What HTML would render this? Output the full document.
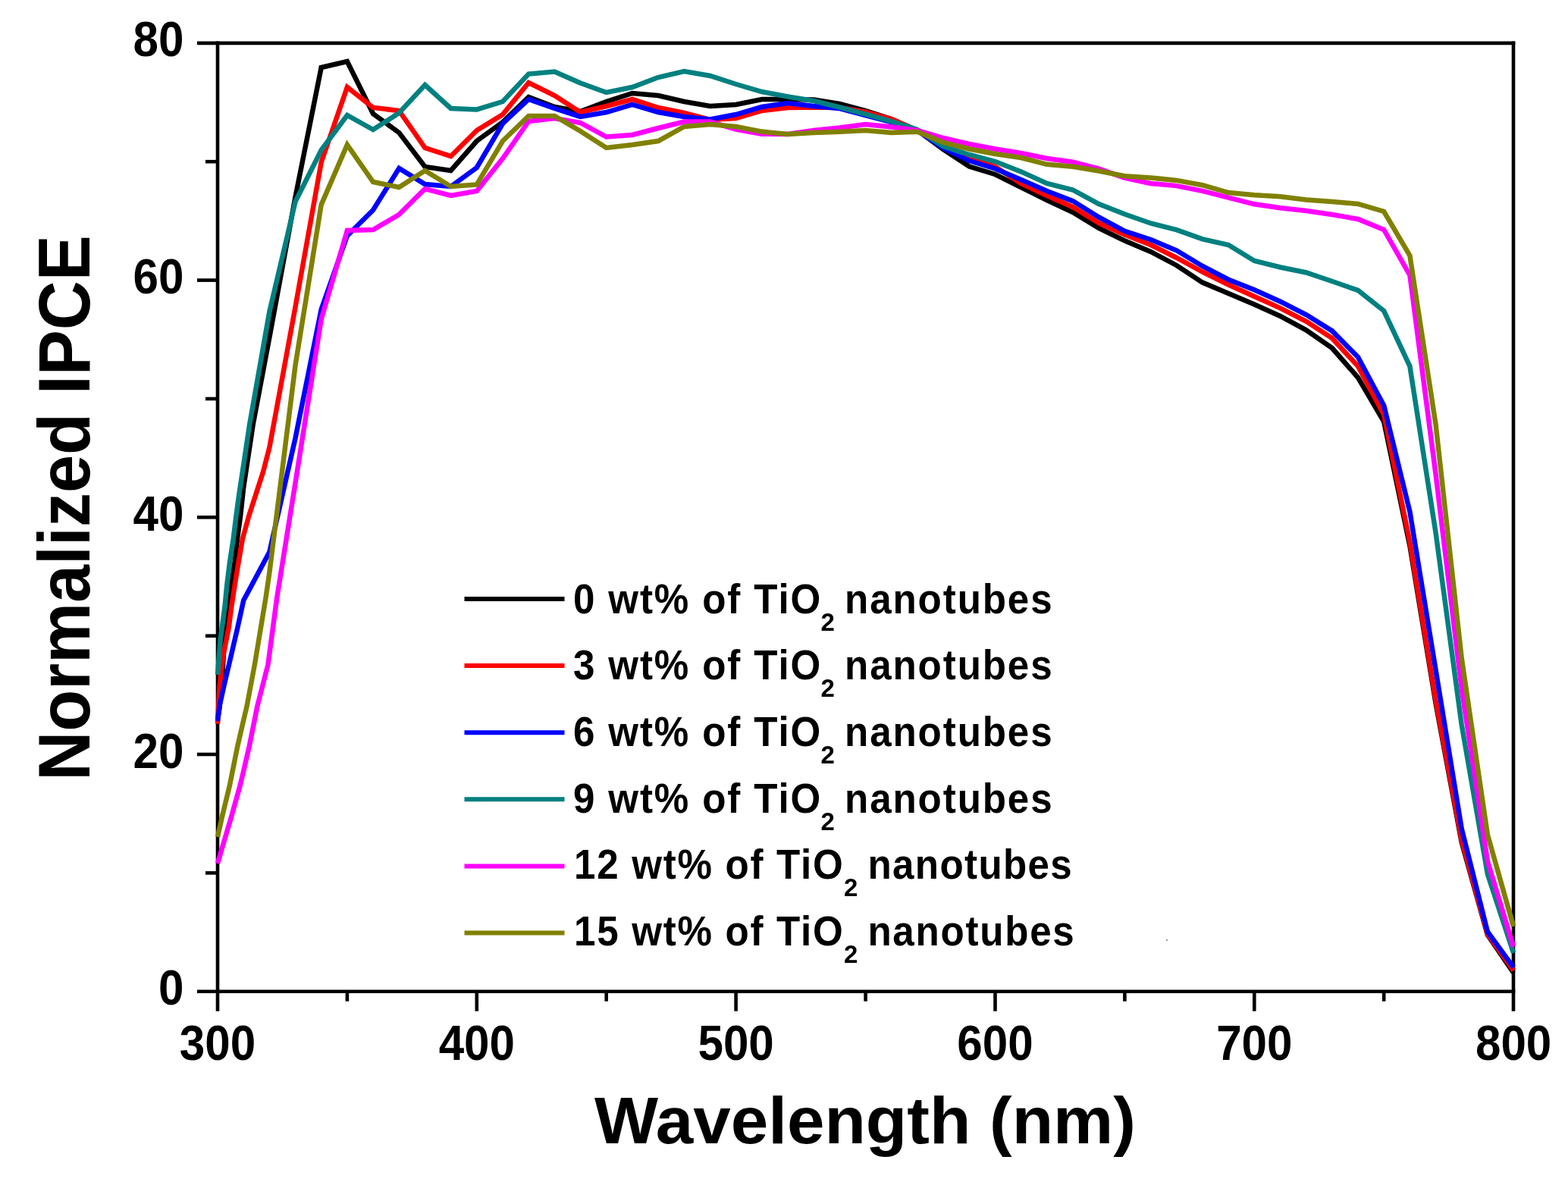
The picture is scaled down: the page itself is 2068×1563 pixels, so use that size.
<!DOCTYPE html>
<html><head><meta charset="utf-8"><style>html,body{margin:0;padding:0;background:#fff;}svg{display:block;}</style></head>
<body><svg width="2068" height="1563" viewBox="0 0 2068 1563"><rect width="2068" height="1563" fill="#fff"/><g stroke="#000" stroke-width="4.6" fill="none" stroke-linecap="butt"><line x1="287" y1="54.6" x2="287" y2="1333.7"/><line x1="1996" y1="54.6" x2="1996" y2="1333.7"/><line x1="260" y1="56.9" x2="1998.3" y2="56.9"/><line x1="260" y1="1307.7" x2="1998.3" y2="1307.7"/><line x1="457.9" y1="1307.7" x2="457.9" y2="1320.7"/><line x1="628.8" y1="1307.7" x2="628.8" y2="1333.7"/><line x1="799.7" y1="1307.7" x2="799.7" y2="1320.7"/><line x1="970.6" y1="1307.7" x2="970.6" y2="1333.7"/><line x1="1141.6" y1="1307.7" x2="1141.6" y2="1320.7"/><line x1="1312.5" y1="1307.7" x2="1312.5" y2="1333.7"/><line x1="1483.4" y1="1307.7" x2="1483.4" y2="1320.7"/><line x1="1654.3" y1="1307.7" x2="1654.3" y2="1333.7"/><line x1="1825.2" y1="1307.7" x2="1825.2" y2="1320.7"/><line x1="271" y1="1151.4" x2="287" y2="1151.4"/><line x1="260" y1="995.0" x2="287" y2="995.0"/><line x1="271" y1="838.7" x2="287" y2="838.7"/><line x1="260" y1="682.3" x2="287" y2="682.3"/><line x1="271" y1="526.0" x2="287" y2="526.0"/><line x1="260" y1="369.6" x2="287" y2="369.6"/><line x1="271" y1="213.2" x2="287" y2="213.2"/></g><polyline points="287.0,948.0 289.0,937.0 292.0,911.0 295.3,856.0 298.0,828.0 302.3,800.0 305.0,772.1 309.6,741.4 313.0,710.7 317.2,680.0 321.2,643.0 333.7,560.0 355.4,445.0 389.5,260.0 423.7,89.0 457.9,81.0 492.1,150.0 526.3,175.0 560.5,220.0 594.6,225.0 628.8,186.0 663.0,161.0 697.2,128.0 731.4,141.0 765.5,147.0 799.7,134.0 833.9,123.0 868.1,126.0 902.3,134.0 936.5,140.0 970.6,138.0 1004.8,131.0 1039.0,131.0 1073.2,131.5 1107.4,137.0 1141.6,146.0 1175.7,157.0 1209.9,172.0 1244.1,197.0 1278.3,219.5 1312.5,230.0 1346.6,247.0 1380.8,264.0 1415.0,280.0 1449.2,301.0 1483.4,317.5 1517.6,332.0 1551.7,350.0 1585.9,372.6 1620.1,387.1 1654.3,401.6 1688.5,417.0 1722.6,435.4 1756.8,459.0 1791.0,498.0 1825.2,556.0 1859.4,720.0 1893.6,928.0 1927.7,1111.0 1961.9,1233.0 1996.1,1283.0" fill="none" stroke="#000000" stroke-width="6.5" stroke-linejoin="miter" stroke-miterlimit="3"/><polyline points="287.0,955.0 289.6,905.0 294.0,866.7 301.7,828.0 305.3,800.0 309.6,772.1 314.6,741.4 319.9,710.7 321.2,706.0 328.4,680.0 346.9,622.8 355.4,590.0 389.5,405.0 423.7,214.0 457.9,115.0 492.1,142.0 526.3,146.0 560.5,195.0 594.6,206.0 628.8,172.0 663.0,151.0 697.2,109.0 731.4,126.0 765.5,148.0 799.7,140.0 833.9,131.0 868.1,142.0 902.3,149.0 936.5,158.0 970.6,156.0 1004.8,146.0 1039.0,142.0 1073.2,141.5 1107.4,142.0 1141.6,147.6 1175.7,157.0 1209.9,172.0 1244.1,194.0 1278.3,208.0 1312.5,220.0 1346.6,242.0 1380.8,258.0 1415.0,273.0 1449.2,294.0 1483.4,309.5 1517.6,323.0 1551.7,340.0 1585.9,358.5 1620.1,375.5 1654.3,391.0 1688.5,406.4 1722.6,423.8 1756.8,446.0 1791.0,483.0 1825.2,547.0 1859.4,715.0 1893.6,924.0 1927.7,1108.0 1961.9,1232.0 1996.1,1280.0" fill="none" stroke="#ff0000" stroke-width="6.5" stroke-linejoin="miter" stroke-miterlimit="3"/><polyline points="287.0,951.0 289.6,930.7 295.3,905.0 304.3,866.7 313.2,828.4 321.2,792.0 355.4,728.0 389.5,578.0 423.7,408.0 457.9,311.0 492.1,277.0 526.3,222.0 560.5,243.0 594.6,246.0 628.8,221.0 663.0,163.0 697.2,131.0 731.4,143.0 765.5,154.0 799.7,148.0 833.9,138.0 868.1,148.0 902.3,154.0 936.5,157.5 970.6,151.0 1004.8,141.0 1039.0,136.0 1073.2,140.0 1107.4,143.0 1141.6,152.0 1175.7,161.0 1209.9,172.0 1244.1,195.5 1278.3,212.0 1312.5,222.5 1346.6,237.0 1380.8,252.0 1415.0,265.1 1449.2,286.4 1483.4,304.8 1517.6,316.0 1551.7,330.3 1585.9,351.0 1620.1,368.7 1654.3,382.2 1688.5,397.7 1722.6,415.1 1756.8,436.4 1791.0,471.0 1825.2,535.0 1859.4,675.0 1893.6,884.0 1927.7,1093.0 1961.9,1229.0 1996.1,1276.0" fill="none" stroke="#0000ff" stroke-width="6.5" stroke-linejoin="miter" stroke-miterlimit="3"/><polyline points="287.0,890.0 290.5,845.0 296.5,800.0 299.2,772.1 303.0,741.4 307.7,710.7 311.5,680.0 315.3,652.0 321.2,613.0 329.1,560.0 355.4,411.0 389.5,266.0 423.7,198.0 457.9,152.0 492.1,171.0 526.3,149.0 560.5,112.0 594.6,143.0 628.8,144.4 663.0,134.0 697.2,97.6 731.4,94.5 765.5,109.5 799.7,122.0 833.9,115.0 868.1,102.0 902.3,94.0 936.5,100.0 970.6,111.0 1004.8,121.0 1039.0,127.5 1073.2,133.0 1107.4,141.5 1141.6,150.7 1175.7,160.0 1209.9,171.0 1244.1,193.0 1278.3,204.0 1312.5,213.0 1346.6,226.4 1380.8,242.0 1415.0,250.5 1449.2,269.0 1483.4,282.5 1517.6,294.5 1551.7,303.2 1585.9,315.3 1620.1,323.0 1654.3,344.0 1688.5,352.5 1722.6,359.5 1756.8,371.0 1791.0,383.0 1825.2,410.0 1859.4,483.0 1893.6,703.0 1927.7,956.0 1961.9,1153.0 1996.1,1257.0" fill="none" stroke="#008080" stroke-width="6.5" stroke-linejoin="miter" stroke-miterlimit="3"/><polyline points="287.0,1139.0 294.4,1113.3 304.7,1078.7 316.8,1035.5 321.2,1017.0 328.9,983.7 339.3,931.8 353.5,876.5 355.4,862.0 365.3,788.0 389.5,637.0 423.7,421.0 457.9,304.0 492.1,303.0 526.3,283.0 560.5,249.0 594.6,258.0 628.8,252.0 663.0,209.0 697.2,160.0 731.4,156.0 765.5,162.0 799.7,180.5 833.9,178.0 868.1,169.0 902.3,160.6 936.5,160.6 970.6,170.5 1004.8,176.7 1039.0,177.0 1073.2,172.0 1107.4,168.5 1141.6,164.0 1175.7,167.6 1209.9,172.0 1244.1,182.0 1278.3,190.0 1312.5,196.5 1346.6,202.0 1380.8,209.0 1415.0,213.8 1449.2,222.6 1483.4,234.5 1517.6,242.0 1551.7,245.1 1585.9,251.9 1620.1,260.6 1654.3,269.3 1688.5,274.2 1722.6,278.0 1756.8,283.0 1791.0,289.0 1825.2,303.0 1859.4,363.0 1893.6,626.0 1927.7,908.0 1961.9,1136.0 1996.1,1249.0" fill="none" stroke="#ff00ff" stroke-width="6.5" stroke-linejoin="miter" stroke-miterlimit="3"/><polyline points="287.0,1104.0 292.6,1078.7 303.0,1035.5 313.4,983.7 321.2,950.0 325.5,931.8 335.9,876.5 350.6,788.0 355.4,755.0 389.5,482.0 423.7,270.0 457.9,191.0 492.1,240.0 526.3,247.0 560.5,225.0 594.6,246.0 628.8,243.5 663.0,186.0 697.2,153.0 731.4,153.0 765.5,173.0 799.7,195.0 833.9,191.0 868.1,186.0 902.3,167.0 936.5,164.0 970.6,167.0 1004.8,173.6 1039.0,177.0 1073.2,175.0 1107.4,173.7 1141.6,172.0 1175.7,175.0 1209.9,173.7 1244.1,188.0 1278.3,196.5 1312.5,203.0 1346.6,208.0 1380.8,216.8 1415.0,219.7 1449.2,225.5 1483.4,232.2 1517.6,234.5 1551.7,237.9 1585.9,244.2 1620.1,254.0 1654.3,257.2 1688.5,259.2 1722.6,263.5 1756.8,266.0 1791.0,269.0 1825.2,279.0 1859.4,337.0 1893.6,560.0 1927.7,868.0 1961.9,1101.0 1996.1,1222.0" fill="none" stroke="#808000" stroke-width="6.5" stroke-linejoin="miter" stroke-miterlimit="3"/><g font-family="'Liberation Sans', sans-serif" font-weight="bold" font-size="64" fill="#000"><text transform="translate(287.0,1397.5) scale(0.94,1)" text-anchor="middle">300</text><text transform="translate(628.8,1397.5) scale(0.94,1)" text-anchor="middle">400</text><text transform="translate(970.6,1397.5) scale(0.94,1)" text-anchor="middle">500</text><text transform="translate(1312.5,1397.5) scale(0.94,1)" text-anchor="middle">600</text><text transform="translate(1654.3,1397.5) scale(0.94,1)" text-anchor="middle">700</text><text transform="translate(1996.1,1397.5) scale(0.94,1)" text-anchor="middle">800</text><text transform="translate(242.5,1325.2) scale(0.94,1)" text-anchor="end">0</text><text transform="translate(242.5,1012.5) scale(0.94,1)" text-anchor="end">20</text><text transform="translate(242.5,699.8) scale(0.94,1)" text-anchor="end">40</text><text transform="translate(242.5,387.1) scale(0.94,1)" text-anchor="end">60</text><text transform="translate(242.5,74.4) scale(0.94,1)" text-anchor="end">80</text></g><text x="783.9" y="1507.9" textLength="714" lengthAdjust="spacingAndGlyphs" font-family="'Liberation Sans', sans-serif" font-weight="bold" font-size="87">Wavelength (nm)</text><text transform="translate(118.2,670) rotate(-90) scale(0.927,1)" x="0" y="0" text-anchor="middle" font-family="'Liberation Sans', sans-serif" font-weight="bold" font-size="97">Normalized IPCE</text><g font-family="'Liberation Sans', sans-serif" font-weight="bold" font-size="55" fill="#000"><line x1="612.5" y1="790.0" x2="744.5" y2="790.0" stroke="#000000" stroke-width="6"/><text transform="translate(755.9,808.6) scale(0.93,1)" textLength="350.9" lengthAdjust="spacing">0 wt% of TiO</text><text x="1082.5" y="831.6" font-size="33">2</text><text transform="translate(1114.1,808.6) scale(0.93,1)" textLength="294.1" lengthAdjust="spacing">nanotubes</text><line x1="612.5" y1="878.1" x2="744.5" y2="878.1" stroke="#ff0000" stroke-width="6"/><text transform="translate(755.9,896.3) scale(0.93,1)" textLength="350.9" lengthAdjust="spacing">3 wt% of TiO</text><text x="1082.5" y="919.3" font-size="33">2</text><text transform="translate(1114.1,896.3) scale(0.93,1)" textLength="294.1" lengthAdjust="spacing">nanotubes</text><line x1="612.5" y1="966.2" x2="744.5" y2="966.2" stroke="#0000ff" stroke-width="6"/><text transform="translate(755.9,984.0) scale(0.93,1)" textLength="350.9" lengthAdjust="spacing">6 wt% of TiO</text><text x="1082.5" y="1007.0" font-size="33">2</text><text transform="translate(1114.1,984.0) scale(0.93,1)" textLength="294.1" lengthAdjust="spacing">nanotubes</text><line x1="612.5" y1="1054.3" x2="744.5" y2="1054.3" stroke="#008080" stroke-width="6"/><text transform="translate(755.9,1071.7) scale(0.93,1)" textLength="350.9" lengthAdjust="spacing">9 wt% of TiO</text><text x="1082.5" y="1094.7" font-size="33">2</text><text transform="translate(1114.1,1071.7) scale(0.93,1)" textLength="294.1" lengthAdjust="spacing">nanotubes</text><line x1="612.5" y1="1142.4" x2="744.5" y2="1142.4" stroke="#ff00ff" stroke-width="6"/><text transform="translate(757,1159.4) scale(0.93,1)" textLength="381.5" lengthAdjust="spacing">12 wt% of TiO</text><text x="1113" y="1182.4" font-size="33">2</text><text transform="translate(1144.4,1159.4) scale(0.93,1)" textLength="289.7" lengthAdjust="spacing">nanotubes</text><line x1="612.5" y1="1230.5" x2="744.5" y2="1230.5" stroke="#808000" stroke-width="6"/><text transform="translate(757,1247.1) scale(0.93,1)" textLength="381.5" lengthAdjust="spacing">15 wt% of TiO</text><text x="1113" y="1270.1" font-size="33">2</text><text transform="translate(1144.4,1247.1) scale(0.93,1)" textLength="292.9" lengthAdjust="spacing">nanotubes</text></g><rect x="1538" y="1239" width="2" height="2" fill="#9a9a9a"/></svg></body></html>
